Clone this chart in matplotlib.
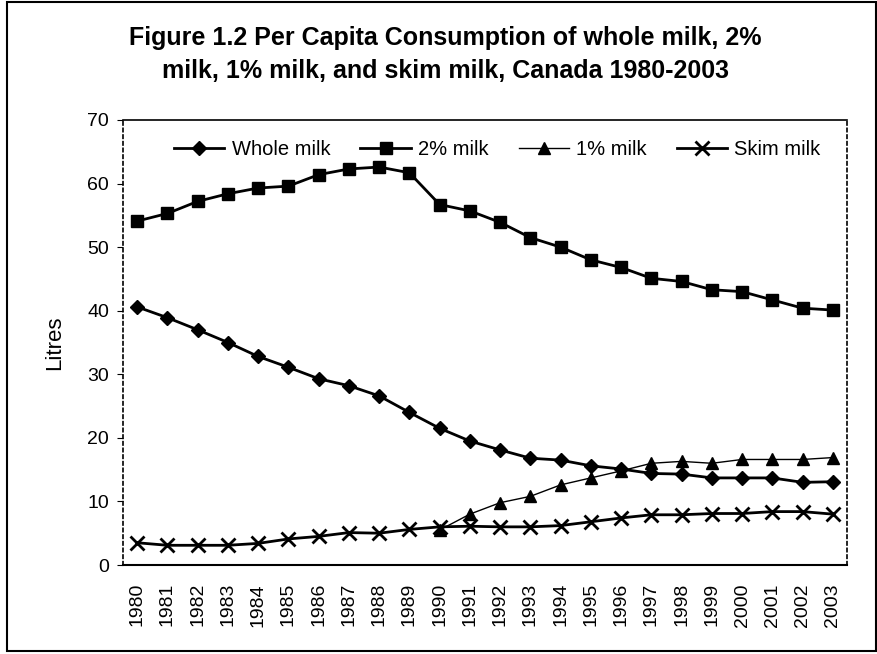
import matplotlib
matplotlib.use("Agg")
import matplotlib.pyplot as plt
from matplotlib.patches import Rectangle

plt.rcParams['font.family'] = ['Liberation Sans', 'DejaVu Sans']

years = [str(y) for y in range(1980, 2004)]
whole_milk = [40.6, 38.9, 37.0, 35.0, 32.8, 31.1, 29.3, 28.2, 26.6, 24.0, 21.5, 19.5,
              18.1, 16.8, 16.5, 15.6, 15.1, 14.4, 14.3, 13.7, 13.7, 13.7, 13.0, 13.1]
two_pct = [54.1, 55.3, 57.2, 58.4, 59.3, 59.6, 61.4, 62.3, 62.6, 61.7, 56.7, 55.7,
           53.9, 51.5, 50.0, 48.0, 46.8, 45.1, 44.6, 43.3, 43.0, 41.7, 40.4, 40.1]
one_pct_years = years[10:]
one_pct = [5.5, 8.0, 9.8, 10.8, 12.6, 13.7, 14.8, 16.0, 16.3, 16.0, 16.6, 16.6, 16.6, 16.9]
skim = [3.5, 3.1, 3.1, 3.1, 3.4, 4.1, 4.5, 5.1, 5.0, 5.6, 6.0, 6.1,
        6.0, 6.0, 6.2, 6.8, 7.4, 7.9, 7.9, 8.1, 8.1, 8.4, 8.4, 8.0]

fig = plt.figure(figsize=(8.77, 6.54), dpi=100)
ax = fig.add_axes([123/877, 1 - 565/654, (847-123)/877, (565-120)/654])

x_all = list(range(len(years)))
x_one = [years.index(y) for y in one_pct_years]

ax.plot(x_all, whole_milk, color='black', lw=2, marker='D', ms=7.5, label='Whole milk')
ax.plot(x_all, two_pct, color='black', lw=2, marker='s', ms=8, label='2% milk')
ax.plot(x_one, one_pct, color='black', lw=1, marker='^', ms=8, label='1% milk')
ax.plot(x_all, skim, color='black', lw=2, marker='x', ms=9.5, mew=2, label='Skim milk')

ax.set_xlim(-0.47, len(years) - 0.53)
ax.set_ylim(0, 70)
ax.set_yticks(range(0, 71, 10))
ax.set_xticks(x_all)
ax.set_xticklabels(years, rotation=90, fontsize=14)
ax.tick_params(axis='y', labelsize=14, length=4, direction='out', pad=6)
ax.tick_params(axis='x', length=0, pad=13)
ax.set_ylabel('Litres', fontsize=16, labelpad=16)

ax.spines['left'].set_linestyle((0, (2, 2)))
ax.spines['right'].set_linestyle((0, (2, 2)))
ax.spines['left'].set_linewidth(1.2)
ax.spines['right'].set_linewidth(1.2)
ax.spines['top'].set_linewidth(1.2)
ax.spines['bottom'].set_linewidth(1.5)

ax.legend(loc='upper center', bbox_to_anchor=(0.517, 0.995), ncol=4, frameon=False,
          fontsize=14.5, handlelength=2.5, columnspacing=1.5, handletextpad=0.35)

fig.text(0.508, 0.96, 'Figure 1.2 Per Capita Consumption of whole milk, 2%\n'
         'milk, 1% milk, and skim milk, Canada 1980-2003',
         ha='center', va='top', fontsize=18, fontweight='bold', linespacing=1.45)

fig.patches.append(Rectangle((7/877, 1 - 651/654), (876-7)/877, (651-2)/654,
                             transform=fig.transFigure, fill=False,
                             edgecolor='black', lw=1.5))

fig.savefig('out.png', dpi=100)
